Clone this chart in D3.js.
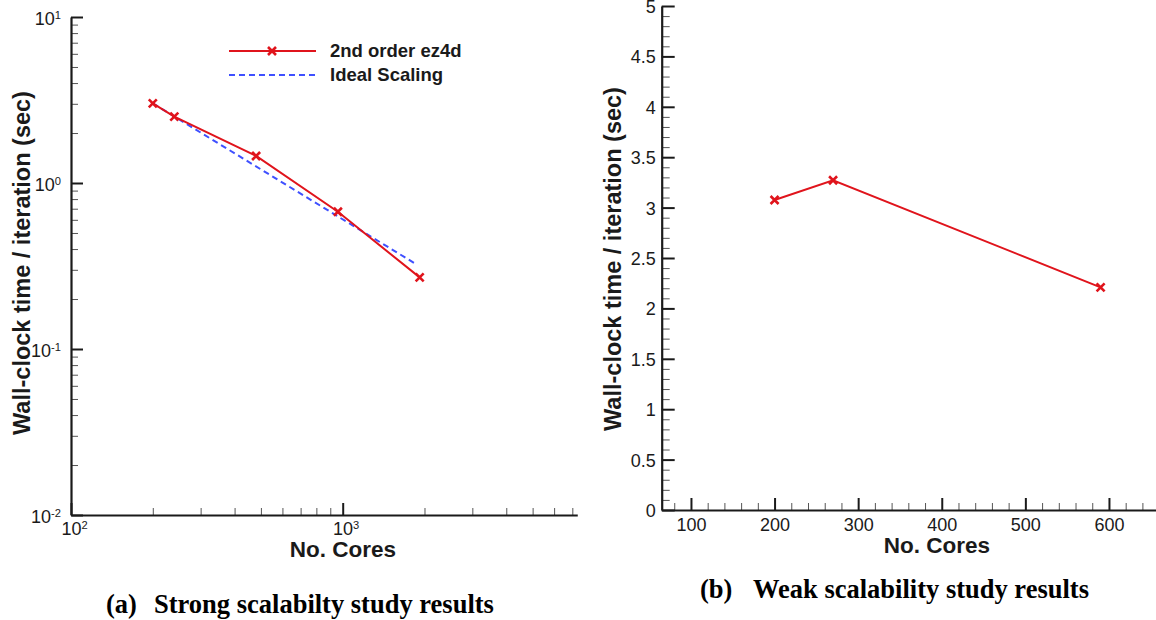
<!DOCTYPE html>
<html>
<head>
<meta charset="utf-8">
<script src="https://cdn.jsdelivr.net/npm/d3@7"></script>
<style>
  html, body { margin: 0; padding: 0; background: #fff; }
  svg { display: block; }
  text { font-family: "Liberation Sans", Arial, Helvetica, sans-serif; fill: #1a1a1a; }
  text.cap { font-family: "Liberation Serif", "Times New Roman", serif; fill: #000; font-weight: bold; }
</style>
</head>
<body>
<svg id="chart" width="1156" height="620"></svg>
<script>
// ---------- data ----------
const strongCores = [200, 240, 480, 960, 1920];
const strongTime  = [3.02, 2.51, 1.455, 0.671, 0.270];
const idealCores  = [200, 1870];
const idealTime   = [3.02, 0.323];
const weakCores   = [200, 270, 590];
const weakTime    = [3.075, 3.271, 2.209];

const strongXMajor = [100, 1000];
const strongYMajor = [0.01, 0.1, 1, 10];
const weakXMajor   = [100, 200, 300, 400, 500, 600];
const weakYMajor   = [0, 0.5, 1, 1.5, 2, 2.5, 3, 3.5, 4, 4.5, 5];

const legendLabels = ["2nd order ez4d", "Ideal Scaling"];
const xTitle = "No. Cores";
const yTitle = "Wall-clock time / iteration (sec)";
const captionA = ["(a)", "Strong scalabilty study results"];
const captionB = ["(b)", "Weak scalability study results"];

// ---------- setup ----------
const svg = d3.select("#chart");
const RED = "#e0141c";
const BLUE = "#3f50ff";
const AX = "#1a1a1a";

function styleAxis(g) {
  g.select(".domain").attr("stroke", AX).attr("stroke-width", 2.2);
  g.selectAll(".tick line").attr("stroke", AX).attr("stroke-width", 2);
}
function styleMinor(g) {
  g.select(".domain").remove();
  g.selectAll(".tick line").attr("stroke", "#555").attr("stroke-width", 1);
  g.selectAll(".tick text").remove();
}
function powLabel(sel, fs) {
  sel.selectAll(".tick text").each(function(d) {
    const t = d3.select(this);
    t.text(null).style("font-size", fs + "px").attr("fill", "#1a1a1a");
    t.append("tspan").style("font-size", fs + "px").text("10");
    t.append("tspan").attr("dy", "-0.55em").style("font-size", (fs * 0.62) + "px")
      .text(String(Math.round(Math.log10(d))));
  });
}

// ---------- left chart (log-log) ----------
const xL = d3.scaleLog().domain([100, 7300]).range([71, 71 + Math.log10(73) * 271.7]);
const yL = d3.scaleLog().domain([0.01, 10]).range([515, 17]);

const minorLX = [];
for (let e = 2; e <= 3; e++) for (let m = 2; m <= 9; m++) { const v = m * Math.pow(10, e); if (v <= 7300) minorLX.push(v); }
const minorLY = [];
for (let e = -2; e <= 0; e++) for (let m = 2; m <= 9; m++) minorLY.push(m * Math.pow(10, e));

svg.append("g").attr("transform", `translate(0,${yL(0.01)})`)
  .call(d3.axisBottom(xL).tickValues(minorLX).tickSize(-7).tickFormat(() => ""))
  .call(styleMinor);
svg.append("g").attr("transform", `translate(${xL(100)},0)`)
  .call(d3.axisLeft(yL).tickValues(minorLY).tickSize(-7).tickFormat(() => ""))
  .call(styleMinor);

const gxL = svg.append("g").attr("transform", `translate(0,${yL(0.01)})`)
  .call(d3.axisBottom(xL).tickValues(strongXMajor).tickSizeInner(-12).tickSizeOuter(0).tickPadding(5))
  .call(styleAxis);
gxL.selectAll(".tick text").attr("dy", "0.82em").attr("dx", "3");
powLabel(gxL, 18);

const gyL = svg.append("g").attr("transform", `translate(${xL(100)},0)`)
  .call(d3.axisLeft(yL).tickValues(strongYMajor).tickSizeInner(-12).tickSizeOuter(0).tickPadding(10))
  .call(styleAxis);
gyL.selectAll(".tick text").attr("dy", "0.42em");
powLabel(gyL, 18);

// ideal dashed line and data line
const lineL = d3.line().x(d => xL(d[0])).y(d => yL(d[1]));
svg.append("path").datum(idealCores.map((c, i) => [c, idealTime[i]]))
  .attr("d", lineL).attr("fill", "none").attr("stroke", BLUE)
  .attr("stroke-width", 2).attr("stroke-dasharray", "6,4");
svg.append("path").datum(strongCores.map((c, i) => [c, strongTime[i]]))
  .attr("d", lineL).attr("fill", "none").attr("stroke", RED).attr("stroke-width", 2);

const xMark = "M-4,-4L4,4M-4,4L4,-4";
svg.append("g").selectAll("path").data(strongCores.map((c, i) => [c, strongTime[i]]))
  .join("path").attr("d", xMark)
  .attr("transform", d => `translate(${xL(d[0])},${yL(d[1])})`)
  .attr("stroke", RED).attr("stroke-width", 2.6).attr("fill", "none");

// legend
const lg = svg.append("g");
lg.append("line").attr("x1", 229).attr("x2", 316).attr("y1", 51).attr("y2", 51)
  .attr("stroke", RED).attr("stroke-width", 2);
lg.append("path").attr("d", xMark).attr("transform", "translate(272,51)")
  .attr("stroke", RED).attr("stroke-width", 2.6);
lg.append("line").attr("x1", 229).attr("x2", 316).attr("y1", 75).attr("y2", 75)
  .attr("stroke", BLUE).attr("stroke-width", 2).attr("stroke-dasharray", "6,4");
lg.selectAll("text").data(legendLabels).join("text")
  .attr("x", 330).attr("y", (d, i) => 57 + i * 24)
  .style("font-size", "18.5px").attr("font-weight", "bold").text(d => d);

// titles
svg.append("text").attr("x", 343).attr("y", 557).attr("text-anchor", "middle")
  .style("font-size", "22.5px").attr("font-weight", "bold").text(xTitle);
svg.append("text").attr("transform", "translate(30,263) rotate(-90)").attr("text-anchor", "middle")
  .style("font-size", "23.5px").attr("font-weight", "bold").text(yTitle);

// ---------- right chart (linear) ----------
const xR = d3.scaleLinear().domain([65, 660]).range([661.7, 661.7 + 595 * 0.836]);
const yR = d3.scaleLinear().domain([0, 5]).range([510, 6]);

const minorRX = d3.range(80, 661, 20).filter(v => v % 100 !== 0);
const minorRY = d3.range(0, 50).map(v => v / 10).filter(v => Math.abs(v * 2 - Math.round(v * 2)) > 1e-6);

svg.append("g").attr("transform", `translate(0,${yR(0)})`)
  .call(d3.axisBottom(xR).tickValues(minorRX).tickSize(-7).tickFormat(() => ""))
  .call(styleMinor);
svg.append("g").attr("transform", `translate(${xR(65)},0)`)
  .call(d3.axisLeft(yR).tickValues(minorRY).tickSize(-8).tickFormat(() => ""))
  .call(styleMinor);

const gxR = svg.append("g").attr("transform", `translate(0,${yR(0)})`)
  .call(d3.axisBottom(xR).tickValues(weakXMajor).tickSizeInner(-12).tickSizeOuter(0).tickPadding(7).tickFormat(d3.format("d")))
  .call(styleAxis);
gxR.selectAll(".tick text").style("font-size", "18px").attr("fill", "#1a1a1a").attr("dy", "0.75em");

const gyR = svg.append("g").attr("transform", `translate(${xR(65)},0)`)
  .call(d3.axisLeft(yR).tickValues(weakYMajor).tickSizeInner(-13).tickSizeOuter(0).tickPadding(6).tickFormat(d => String(d)))
  .call(styleAxis);
gyR.selectAll(".tick text").style("font-size", "18px").attr("fill", "#1a1a1a").attr("dy", "0.36em");

const lineR = d3.line().x(d => xR(d[0])).y(d => yR(d[1]));
svg.append("path").datum(weakCores.map((c, i) => [c, weakTime[i]]))
  .attr("d", lineR).attr("fill", "none").attr("stroke", RED).attr("stroke-width", 2);
svg.append("g").selectAll("path").data(weakCores.map((c, i) => [c, weakTime[i]]))
  .join("path").attr("d", xMark)
  .attr("transform", d => `translate(${xR(d[0])},${yR(d[1])})`)
  .attr("stroke", RED).attr("stroke-width", 2.6).attr("fill", "none");

svg.append("text").attr("x", 937).attr("y", 553).attr("text-anchor", "middle")
  .style("font-size", "22.5px").attr("font-weight", "bold").text(xTitle);
svg.append("text").attr("transform", "translate(621,259) rotate(-90)").attr("text-anchor", "middle")
  .style("font-size", "23.5px").attr("font-weight", "bold").text(yTitle);

// ---------- captions ----------
const capSize = "26.5px";
svg.append("text").attr("class", "cap").attr("x", 106).attr("y", 613).style("font-size", capSize).text(captionA[0]);
svg.append("text").attr("class", "cap").attr("x", 154).attr("y", 613).style("font-size", capSize).text(captionA[1]);
svg.append("text").attr("class", "cap").attr("x", 700).attr("y", 598).style("font-size", capSize).text(captionB[0]);
svg.append("text").attr("class", "cap").attr("x", 753).attr("y", 598).style("font-size", capSize).text(captionB[1]);
</script>
</body>
</html>
